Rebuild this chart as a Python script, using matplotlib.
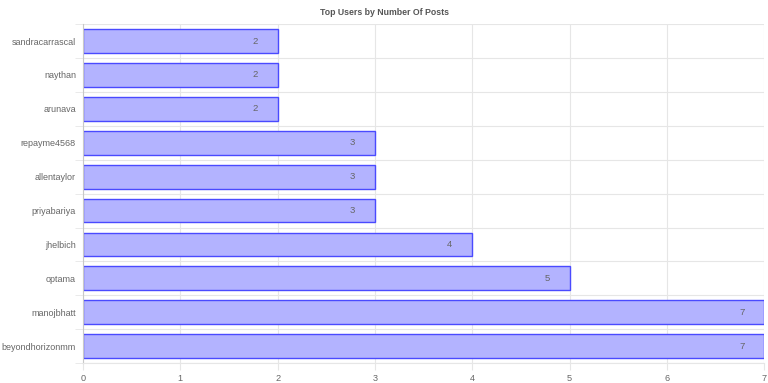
import numpy as np
import matplotlib.pyplot as plt
from matplotlib.ticker import FixedLocator

users = ["sandracarrascal", "naythan", "arunava", "repayme4568", "allentaylor",
         "priyabariya", "jhelbich", "optama", "manojbhatt", "beyondhorizonmm"]
posts = [2, 2, 2, 3, 3, 3, 4, 5, 7, 7]

plt.rcParams['font.family'] = ['Liberation Sans', 'DejaVu Sans']

fig = plt.figure(figsize=(7.68, 3.83), dpi=100)
ax = fig.add_axes([0.108, 0.052, 0.887, 0.885])

y = np.arange(len(users))
ax.barh(y, posts, height=0.7, color='#b3b3ff', edgecolor='#4a4aff', linewidth=1.0, zorder=2)

# value labels inside the bar end
for yi, v in zip(y, posts):
    ax.text(v - 0.23, yi, str(v), ha='center', va='center', fontsize=6.8, color='#666666', zorder=3)

ax.set_xlim(0, 7)
ax.set_ylim(len(users) - 0.5, -0.5)
ax.set_yticks(y)
ax.set_yticklabels(users)
ax.set_xticks(range(0, 8))

# category grid lines between bars
ax.yaxis.set_minor_locator(FixedLocator(np.arange(-0.5, len(users), 1.0)))
ax.grid(axis='y', which='minor', color='#e6e6e6', linewidth=0.8, zorder=0)
ax.grid(axis='x', which='major', color='#e6e6e6', linewidth=0.8, zorder=0)
ax.tick_params(axis='y', which='major', length=0, pad=5, labelsize=6.5, labelcolor='#666666')
ax.tick_params(axis='y', which='minor', length=6, color='#e6e6e6')
ax.tick_params(axis='x', length=5, color='#e6e6e6', labelsize=6.6, labelcolor='#666666', pad=3)

for s in ['top', 'right']:
    ax.spines[s].set_visible(False)
ax.spines['left'].set_color('#c8c8c8')
ax.spines['bottom'].set_color('#e6e6e6')

fig.text(0.5, 0.968, "Top Users by Number Of Posts", ha='center', va='center',
         fontsize=6.3, fontweight='bold', color='#555555')

fig.savefig("out.png", dpi=100)
